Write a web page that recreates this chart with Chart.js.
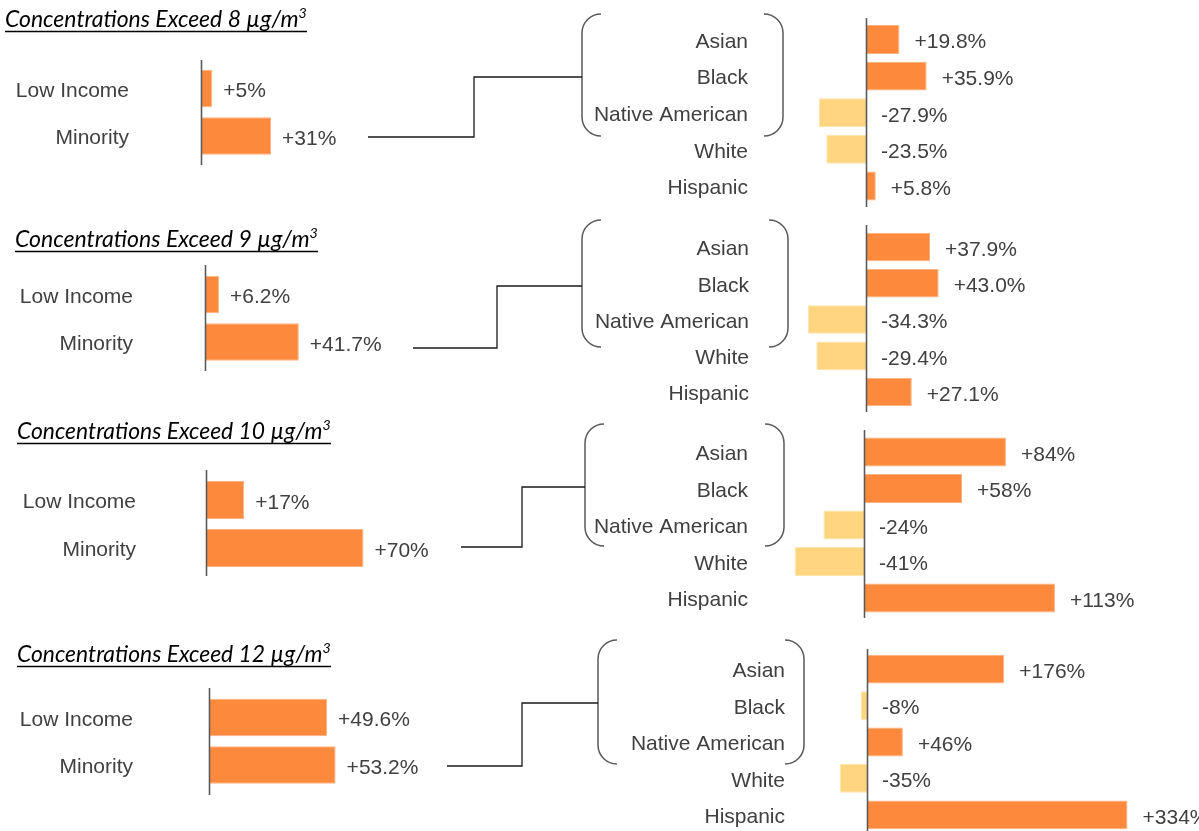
<!DOCTYPE html>
<html><head><meta charset="utf-8">
<script src="https://cdn.jsdelivr.net/npm/chart.js@4"></script>
<style>
html,body{margin:0;padding:0;background:#fff;}
#stage{position:relative;width:1199px;height:831px;overflow:hidden;background:#fff;}
.box{position:absolute;}
#ov{position:absolute;left:0;top:0;pointer-events:none;}
</style></head><body>
<div id="stage"><svg id="ov" width="1199" height="831" xmlns="http://www.w3.org/2000/svg"></svg></div>
<script>
// ---------- data ----------
const thresholds = ['8', '9', '10', '12'];
const groupLabels = ['Low Income', 'Minority'];
const raceLabels = ['Asian', 'Black', 'Native American', 'White', 'Hispanic'];

const group8 = [5, 31];
const race8 = [19.8, 35.9, -27.9, -23.5, 5.8];
const group9 = [6.2, 41.7];
const race9 = [37.9, 43.0, -34.3, -29.4, 27.1];
const group10 = [17, 70];
const race10 = [84, 58, -24, -41, 113];
const group12 = [49.6, 53.2];
const race12 = [176, -8, 46, -35, 334];

const groupDecimals = [0, 1, 0, 1];
const raceDecimals = [1, 1, 0, 0];

// ---------- style ----------
const ORANGE = '#FD8A3C', ORANGE_EDGE = '#FDB27F';
const YELLOW = '#FFD580', YELLOW_EDGE = '#FFE4AE';
const TEXT = '#404040';
const FONT = '"Liberation Sans", Arial, sans-serif';
const AXIS = '#5a5a5a';

const stage = document.getElementById('stage');
const ov = document.getElementById('ov');
const NS = 'http://www.w3.org/2000/svg';

const zeroLine = {
  id: 'zeroLine',
  afterDatasetsDraw(chart) {
    const x = Math.round(chart.scales.x.getPixelForValue(0)) + 0.5;
    const ctx = chart.ctx;
    ctx.save();
    ctx.strokeStyle = AXIS;
    ctx.lineWidth = 1.6;
    ctx.beginPath();
    ctx.moveTo(x, 0);
    ctx.lineTo(x, chart.height);
    ctx.stroke();
    ctx.restore();
  }
};

const valueLabels = {
  id: 'valueLabels',
  afterDatasetsDraw(chart, args, opts) {
    const ctx = chart.ctx;
    const meta = chart.getDatasetMeta(0);
    const vals = chart.data.datasets[0].data;
    const zero = chart.scales.x.getPixelForValue(0);
    ctx.save();
    ctx.font = '21px ' + FONT;
    ctx.fillStyle = TEXT;
    ctx.textAlign = 'left';
    ctx.textBaseline = 'middle';
    meta.data.forEach((bar, i) => {
      const v = vals[i];
      const s = (v >= 0 ? '+' : '-') + Math.abs(v).toFixed(opts.decimals) + '%';
      const x = (v >= 0 ? bar.x : zero) + opts.gap;
      ctx.fillText(s, x, bar.y + 3);
    });
    ctx.restore();
  }
};

function makeChart(g, labels, values, decimals) {
  const div = document.createElement('div');
  div.className = 'box';
  const w = g.right - g.left, h = g.lineBottom - g.lineTop;
  div.style.left = g.left + 'px';
  div.style.top = g.lineTop + 'px';
  div.style.width = w + 'px';
  div.style.height = h + 'px';
  const cv = document.createElement('canvas');
  div.appendChild(cv);
  stage.insertBefore(div, ov);
  const areaLeft = g.axisX + g.xMin * g.ppu;
  const yWidth = areaLeft - g.left;
  const xMax = g.xMin + (g.right - areaLeft) / g.ppu;
  new Chart(cv, {
    type: 'bar',
    data: {
      labels: labels,
      datasets: [{
        data: values,
        backgroundColor: c => c.raw >= 0 ? ORANGE : YELLOW,
        borderColor: c => c.raw >= 0 ? ORANGE_EDGE : YELLOW_EDGE,
        borderWidth: 1,
        barPercentage: 0.79,
        categoryPercentage: 1
      }]
    },
    options: {
      responsive: true,
      maintainAspectRatio: false,
      animation: false,
      indexAxis: 'y',
      layout: { padding: { top: g.catTop - g.lineTop, bottom: g.lineBottom - g.catBottom, left: 0, right: 0 } },
      plugins: {
        legend: { display: false },
        tooltip: { enabled: false },
        valueLabels: { gap: g.gap, decimals: decimals }
      },
      scales: {
        x: { display: false, min: g.xMin, max: xMax },
        y: {
          grid: { display: false, drawTicks: false },
          border: { display: false },
          ticks: { padding: areaLeft - g.labelRight, labelOffset: 2.5, color: TEXT, font: { family: FONT, size: 21 }, autoSkip: false },
          afterFit: s => { s.width = yWidth; s.paddingTop = 0; s.paddingBottom = 0; }
        }
      }
    },
    plugins: [zeroLine, valueLabels]
  });
}

// ---------- layout ----------
const leftGeom = [
  { left: 0, right: 450, lineTop: 60, lineBottom: 165, catTop: 64.75, catBottom: 159.75, axisX: 201, labelRight: 129, ppu: 2.26, xMin: 0, gap: 11 },
  { left: 0, right: 450, lineTop: 265, lineBottom: 371, catTop: 270.75, catBottom: 365.75, axisX: 205, labelRight: 133, ppu: 2.25, xMin: 0, gap: 11 },
  { left: 0, right: 450, lineTop: 470, lineBottom: 576, catTop: 476, catBottom: 572, axisX: 206, labelRight: 136, ppu: 2.25, xMin: 0, gap: 11 },
  { left: 0, right: 450, lineTop: 688, lineBottom: 795, catTop: 693.75, catBottom: 788.75, axisX: 209, labelRight: 133, ppu: 2.38, xMin: 0, gap: 11 }
];
const rightGeom = [
  { left: 560, right: 1199, lineTop: 18, lineBottom: 207, catTop: 21.2, catBottom: 204.3, axisX: 866, labelRight: 748, ppu: 1.69, xMin: -60, gap: 15 },
  { left: 560, right: 1199, lineTop: 225, lineBottom: 412, catTop: 228.9, catBottom: 410.1, axisX: 866, labelRight: 749, ppu: 1.69, xMin: -60, gap: 15 },
  { left: 560, right: 1135, lineTop: 430, lineBottom: 618, catTop: 433.75, catBottom: 616.25, axisX: 864, labelRight: 748, ppu: 1.69, xMin: -60, gap: 15 },
  { left: 560, right: 1199, lineTop: 649, lineBottom: 840, catTop: 651, catBottom: 833, axisX: 867, labelRight: 785, ppu: 0.78, xMin: -40, gap: 15 }
];
const groupData = [group8, group9, group10, group12];
const raceData = [race8, race9, race10, race12];

for (let i = 0; i < 4; i++) {
  makeChart(leftGeom[i], groupLabels, groupData[i], groupDecimals[i]);
  makeChart(rightGeom[i], raceLabels, raceData[i], raceDecimals[i]);
}

// ---------- annotations (brackets, connectors, titles) ----------
function el(tag, attrs, parent) {
  const e = document.createElementNS(NS, tag);
  for (const k in attrs) e.setAttribute(k, attrs[k]);
  (parent || ov).appendChild(e);
  return e;
}
const brackets = [
  [582, 783, 14, 136], [582, 788, 220, 347], [585, 784, 424, 546], [598, 804, 640, 764]
];
brackets.forEach(([xl, xr, t, b]) => {
  const r = 19;
  el('path', { d: `M${xl + r},${t} A${r},${r} 0 0 0 ${xl},${t + r} L${xl},${b - r} A${r},${r} 0 0 0 ${xl + r},${b}`, fill: 'none', stroke: '#595959', 'stroke-width': 1.5 });
  el('path', { d: `M${xr - r},${t} A${r},${r} 0 0 1 ${xr},${t + r} L${xr},${b - r} A${r},${r} 0 0 1 ${xr - r},${b}`, fill: 'none', stroke: '#595959', 'stroke-width': 1.5 });
});
const connectors = [
  [368, 137, 474, 77, 582], [413, 348, 497, 286, 582], [461, 547, 522, 487, 585], [447, 766, 522, 703, 598]
];
connectors.forEach(([x0, y0, xm, y1, x1]) => {
  el('polyline', { points: `${x0},${y0} ${xm},${y0} ${xm},${y1} ${x1},${y1}`, fill: 'none', stroke: '#1a1a1a', 'stroke-width': 1.3 });
});
const titlePos = [[5, 27, 302], [15, 247, 303], [17, 439, 314], [17, 662, 314]];
titlePos.forEach(([x, y, tw], i) => {
  const base = 22;
  const t = el('text', { x: x, y: y, 'font-family': 'Lato, "Open Sans", sans-serif', 'font-style': 'italic', 'font-size': base, fill: '#000' });
  t.appendChild(document.createTextNode('Concentrations Exceed ' + thresholds[i] + ' \u00B5g/m'));
  const sup = el('tspan', { 'font-size': base * 0.62, dy: -9 }, t);
  sup.textContent = '3';
  const len = t.getComputedTextLength();
  const fs = base * tw / len;
  t.setAttribute('font-size', fs);
  sup.setAttribute('font-size', fs * 0.62);
  sup.setAttribute('dy', -fs * 0.4);
  el('line', { x1: x, x2: x + tw, y1: y + 4.5, y2: y + 4.5, stroke: '#000', 'stroke-width': 1.5 });
});
</script>
</body></html>
